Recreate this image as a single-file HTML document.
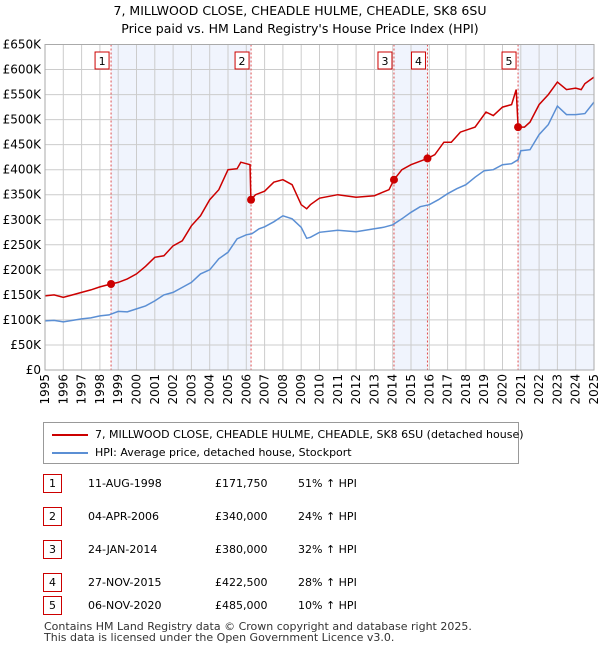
<!DOCTYPE html>
<html><head><meta charset="utf-8"><style>
body{margin:0;background:#fff;font-family:"DejaVu Sans","Liberation Sans",sans-serif;color:#000}
#wrap{position:relative;width:600px;height:650px;overflow:hidden}
.t{position:absolute;font-size:12px;white-space:nowrap}
.box{position:absolute;width:17px;height:17px;border:1px solid #c00;font-size:11px;text-align:center;line-height:17px;background:#fff}
svg text{font-family:"DejaVu Sans","Liberation Sans",sans-serif}
</style></head><body><div id="wrap">
<div class="t" style="left:0;width:600px;text-align:center;top:3px;font-size:12.5px">7, MILLWOOD CLOSE, CHEADLE HULME, CHEADLE, SK8 6SU</div>
<div class="t" style="left:0;width:600px;text-align:center;top:21px;font-size:12.5px">Price paid vs. HM Land Registry's House Price Index (HPI)</div>
<svg id="chart" width="600" height="410" style="position:absolute;left:0;top:0"></svg>
<div style="position:absolute;left:43px;top:422px;width:474px;height:40px;border:1px solid #999;font-size:11px">
<div style="position:absolute;left:8px;top:5px;white-space:nowrap"><span style="display:inline-block;width:36px;border-top:2px solid #c00;vertical-align:middle;margin-right:7px"></span>7, MILLWOOD CLOSE, CHEADLE HULME, CHEADLE, SK8 6SU (detached house)</div>
<div style="position:absolute;left:8px;top:23px;white-space:nowrap"><span style="display:inline-block;width:36px;border-top:2px solid #5b8fd4;vertical-align:middle;margin-right:7px"></span>HPI: Average price, detached house, Stockport</div>
</div>
<div id="tbl"></div>
<div class="t" style="left:44px;top:620px;font-size:11px;color:#333">Contains HM Land Registry data © Crown copyright and database right 2025.</div>
<div class="t" style="left:44px;top:631px;font-size:11px;color:#333">This data is licensed under the Open Government Licence v3.0.</div>
</div>
<script>
const hpiYears=[1995,1995.5,1996,1996.5,1997,1997.5,1998,1998.5,1999,1999.5,2000,2000.5,2001,2001.5,2002,2002.5,2003,2003.5,2004,2004.5,2005,2005.5,2006,2006.3,2006.7,2007,2007.5,2008,2008.5,2009,2009.3,2009.5,2010,2011,2012,2013,2013.5,2014,2014.5,2015,2015.5,2016,2016.5,2017,2017.5,2018,2018.5,2019,2019.5,2020,2020.5,2020.85,2021,2021.5,2022,2022.5,2023,2023.5,2024,2024.5,2025];
const hpiValues=[98,99,96,99,102,104,108,110,117,116,122,128,138,150,155,165,175,192,200,222,235,262,270,272,282,286,296,308,302,285,263,265,275,279,276,282,285,290,302,315,326,330,340,352,362,370,385,398,400,410,412,420,438,440,470,490,527,510,510,512,535];
const priceYears=[1995,1995.5,1996,1996.5,1997,1997.5,1998,1998.6,1999,1999.5,2000,2000.5,2001,2001.5,2002,2002.5,2003,2003.5,2004,2004.5,2005,2005.5,2005.7,2006.2,2006.25,2006.5,2007,2007.5,2008,2008.5,2009,2009.3,2009.5,2010,2011,2012,2013,2013.8,2014.07,2014.5,2015,2015.9,2016.3,2016.8,2017.2,2017.7,2018.5,2019.1,2019.5,2020,2020.5,2020.75,2020.85,2021.2,2021.5,2022,2022.5,2023,2023.5,2024,2024.3,2024.5,2025];
const priceValues=[148,150,145,150,155,160,166,171.75,175,182,192,207,225,228,248,258,288,308,340,360,400,402,415,410,340,350,357,375,380,370,330,322,330,343,350,345,348,360,380,400,410,422.5,430,455,455,475,485,515,508,525,530,560,485,485,495,530,550,575,560,563,560,572,585];
const saleLabels=["1","2","3","4","5"];
const saleYears=[1998.61,2006.26,2014.07,2015.9,2020.85];
const saleValues=[171.75,340,380,422.5,485];
const saleDates=["11-AUG-1998","04-APR-2006","24-JAN-2014","27-NOV-2015","06-NOV-2020"];
const salePrices=["£171,750","£340,000","£380,000","£422,500","£485,000"];
const saleHpi=["51% ↑ HPI","24% ↑ HPI","32% ↑ HPI","28% ↑ HPI","10% ↑ HPI"];
const yTicks=[0,50,100,150,200,250,300,350,400,450,500,550,600,650];
const xTicks=[1995,1996,1997,1998,1999,2000,2001,2002,2003,2004,2005,2006,2007,2008,2009,2010,2011,2012,2013,2014,2015,2016,2017,2018,2019,2020,2021,2022,2023,2024,2025];

const X0=45,X1=594,Y0=370,Y1=44.5;
const xs=y=>X0+(y-1995)/30*(X1-X0);
const ys=v=>Y0-v/650*(Y0-Y1);
const svg=document.getElementById('chart'),NS='http://www.w3.org/2000/svg';
function mk(tag,attrs){const e=document.createElementNS(NS,tag);for(const k in attrs)e.setAttribute(k,attrs[k]);svg.appendChild(e);return e;}
for(let i=0;i<saleYears.length;i+=2){
  const a=saleYears[i],b=i+1<saleYears.length?saleYears[i+1]:2025;
  const r=mk('rect',{x:xs(a),y:Y1,width:xs(b)-xs(a),height:Y0-Y1,fill:'#f0f4fd'});
  
  
}
yTicks.forEach(v=>{
  const l=mk('line',{x1:X0,x2:X1,y1:ys(v),y2:ys(v),stroke:'#ccc','stroke-width':1});
  
  
  const t=mk('text',{x:X0-4,y:ys(v)+4,'text-anchor':'end','font-size':12,fill:'#000'});
  
  
  t.textContent=v===0?'£0':'£'+v+'K';
});
xTicks.forEach(y=>{
  const l=mk('line',{x1:xs(y),x2:xs(y),y1:Y1,y2:Y0,stroke:'#ccc','stroke-width':1});
  
  
  const t=mk('text',{transform:`translate(${xs(y)+4},${Y0+4}) rotate(-90)`,'text-anchor':'end','font-size':12,fill:'#000'});
  
  
  t.textContent=y;
});
saleYears.forEach((y,i)=>{
  const l=mk('line',{x1:xs(y),x2:xs(y),y1:Y1,y2:Y0,stroke:'#e05050','stroke-width':1,'stroke-dasharray':'2,2'});
  
  
});
const pts=(xa,va)=>xa.map((y,i)=>xs(y).toFixed(1)+','+ys(va[i]).toFixed(1)).join(' ');
const h=mk('polyline',{points:pts(hpiYears,hpiValues),fill:'none',stroke:'#5b8fd4','stroke-width':1.5});


const p=mk('polyline',{points:pts(priceYears,priceValues),fill:'none',stroke:'#cc0000','stroke-width':1.5});


saleYears.forEach((y,i)=>{
  const c=mk('circle',{cx:xs(y),cy:ys(saleValues[i]),r:4,fill:'#cc0000'});
  
  
  const r=mk('rect',{x:xs(y)-16,y:52,width:14,height:17,fill:'#fff',stroke:'#cc0000'});
  
  
  const t=mk('text',{x:xs(y)-9,y:65,'text-anchor':'middle','font-size':11});
  
  
  t.textContent=saleLabels[i];
});
const ax=mk('rect',{x:X0,y:Y1,width:X1-X0,height:Y0-Y1,fill:'none',stroke:'#aaa'});


const tbl=document.getElementById('tbl');
saleLabels.forEach((s,i)=>{
  const top=[474,507,540,573,596][i];
  const r=document.createElement('div');
  
  
  r.style.cssText=`position:absolute;left:0;top:${top}px;width:600px;height:20px;font-size:11px`;
  r.innerHTML=`<div class="box" style="left:43px;top:0">${s}</div><div class="t" style="left:88px;top:3px;font-size:11px">${saleDates[i]}</div><div class="t" style="left:215px;top:3px;font-size:11px">${salePrices[i]}</div><div class="t" style="left:298px;top:3px;font-size:11px">${saleHpi[i]}</div>`;
  tbl.appendChild(r);
});
</script></body></html>
